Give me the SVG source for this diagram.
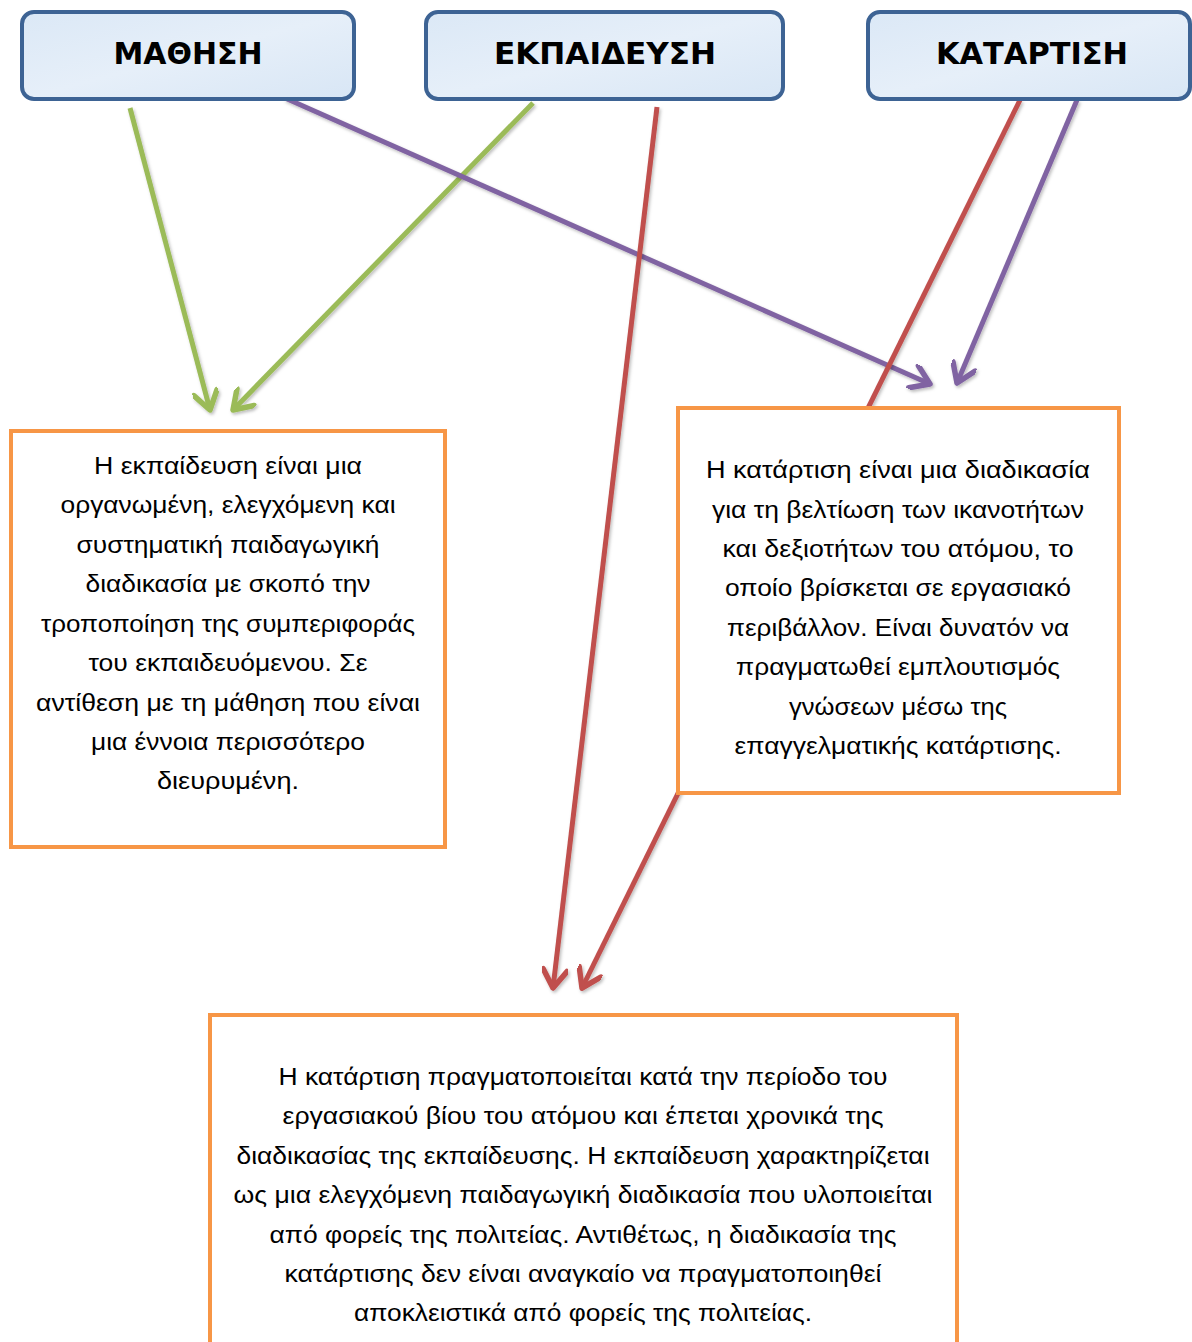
<svg xmlns="http://www.w3.org/2000/svg" width="1192" height="1342" viewBox="0 0 1192 1342">
<style>
.hdr{fill:url(#blueFill);stroke:#3d6394;stroke-width:4}
.htxt{font-family:"DejaVu Sans","Liberation Sans",sans-serif;font-weight:bold;font-size:30px;fill:#000;text-anchor:middle}
.obox{fill:#fff;stroke:#f79646;stroke-width:4}
.btxt{font-family:"Liberation Sans","Noto Sans",sans-serif;font-size:23px;fill:#000;text-anchor:middle}
.c{fill:none;stroke-width:5;filter:url(#sh)}
.g{stroke:#9bbb59}.p{stroke:#8064a2}.r{stroke:#c0504d}
</style>
<defs>
<linearGradient id="blueFill" x1="0" y1="0" x2="1" y2="1">
<stop offset="0" stop-color="#dbe8f6"/><stop offset="0.5" stop-color="#e6eff9"/><stop offset="1" stop-color="#d8e6f5"/>
</linearGradient>
<filter id="sh" x="-20%" y="-20%" width="140%" height="140%">
<feDropShadow dx="1.5" dy="2" stdDeviation="1.5" flood-color="#000" flood-opacity="0.25"/>
</filter>
<marker id="ag" viewBox="0 0 26 26" refX="22" refY="13" markerWidth="26" markerHeight="26" markerUnits="userSpaceOnUse" orient="auto"><path d="M4,1 L22,13 L4,25" fill="none" stroke="#9bbb59" stroke-width="5.5" stroke-linecap="round" stroke-linejoin="round"/></marker>
<marker id="ap" viewBox="0 0 26 26" refX="22" refY="13" markerWidth="26" markerHeight="26" markerUnits="userSpaceOnUse" orient="auto"><path d="M4,1 L22,13 L4,25" fill="none" stroke="#8064a2" stroke-width="5.5" stroke-linecap="round" stroke-linejoin="round"/></marker>
<marker id="ar" viewBox="0 0 26 26" refX="22" refY="13" markerWidth="26" markerHeight="26" markerUnits="userSpaceOnUse" orient="auto"><path d="M4,1 L22,13 L4,25" fill="none" stroke="#c0504d" stroke-width="5.5" stroke-linecap="round" stroke-linejoin="round"/></marker>
</defs>
<rect width="1192" height="1342" fill="#fff"/>

<g id="connectors">
<line class="c g" x1="130" y1="108" x2="210" y2="410" marker-end="url(#ag)"/>
<line class="c g" x1="533" y1="103" x2="233" y2="410" marker-end="url(#ag)"/>
<line class="c p" x1="285" y1="98" x2="930" y2="384" marker-end="url(#ap)"/>
<line class="c r" x1="657" y1="107" x2="553" y2="988" marker-end="url(#ar)"/>
<line class="c r" x1="1020" y1="100" x2="582" y2="988" marker-end="url(#ar)"/>
<line class="c p" x1="1077" y1="100" x2="957" y2="383" marker-end="url(#ap)"/>
</g>

<g id="node-mathisi">
<rect class="hdr" x="22" y="12" width="332" height="87" rx="12"/>
<text class="htxt" x="188" y="64" textLength="149" lengthAdjust="spacingAndGlyphs">ΜΑΘΗΣΗ</text>
</g>
<g id="node-ekpaideusi">
<rect class="hdr" x="426" y="12" width="357" height="87" rx="12"/>
<text class="htxt" x="605" y="64" textLength="222" lengthAdjust="spacingAndGlyphs">ΕΚΠΑΙΔΕΥΣΗ</text>
</g>
<g id="node-katartisi">
<rect class="hdr" x="868" y="12" width="322" height="87" rx="12"/>
<text class="htxt" x="1032" y="64" textLength="192" lengthAdjust="spacingAndGlyphs">ΚΑΤΑΡΤΙΣΗ</text>
</g>

<g id="node-ekpaideusi-def">
<rect class="obox" x="11" y="431" width="434" height="416"/>
<text class="btxt" x="228" y="474" textLength="268" lengthAdjust="spacingAndGlyphs">Η εκπαίδευση είναι μια</text>
<text class="btxt" x="228" y="513" textLength="335" lengthAdjust="spacingAndGlyphs">οργανωμένη, ελεγχόμενη και</text>
<text class="btxt" x="228" y="553" textLength="303" lengthAdjust="spacingAndGlyphs">συστηματική παιδαγωγική</text>
<text class="btxt" x="228" y="592" textLength="285" lengthAdjust="spacingAndGlyphs">διαδικασία με σκοπό την</text>
<text class="btxt" x="228" y="632" textLength="374" lengthAdjust="spacingAndGlyphs">τροποποίηση της συμπεριφοράς</text>
<text class="btxt" x="228" y="671" textLength="279" lengthAdjust="spacingAndGlyphs">του εκπαιδευόμενου. Σε</text>
<text class="btxt" x="228" y="711" textLength="384" lengthAdjust="spacingAndGlyphs">αντίθεση με τη μάθηση που είναι</text>
<text class="btxt" x="228" y="750" textLength="274" lengthAdjust="spacingAndGlyphs">μια έννοια περισσότερο</text>
<text class="btxt" x="228" y="789" textLength="142" lengthAdjust="spacingAndGlyphs">διευρυμένη.</text>
</g>

<g id="node-katartisi-def">
<rect class="obox" x="678" y="408" width="441" height="385"/>
<text class="btxt" x="898" y="478" textLength="384" lengthAdjust="spacingAndGlyphs">Η κατάρτιση είναι μια διαδικασία</text>
<text class="btxt" x="898" y="518" textLength="372" lengthAdjust="spacingAndGlyphs">για τη βελτίωση των ικανοτήτων</text>
<text class="btxt" x="898" y="557" textLength="351" lengthAdjust="spacingAndGlyphs">και δεξιοτήτων του ατόμου, το</text>
<text class="btxt" x="898" y="596" textLength="346" lengthAdjust="spacingAndGlyphs">οποίο βρίσκεται σε εργασιακό</text>
<text class="btxt" x="898" y="636" textLength="342" lengthAdjust="spacingAndGlyphs">περιβάλλον. Είναι δυνατόν να</text>
<text class="btxt" x="898" y="675" textLength="324" lengthAdjust="spacingAndGlyphs">πραγματωθεί εμπλουτισμός</text>
<text class="btxt" x="898" y="715" textLength="218" lengthAdjust="spacingAndGlyphs">γνώσεων μέσω της</text>
<text class="btxt" x="898" y="754" textLength="327" lengthAdjust="spacingAndGlyphs">επαγγελματικής κατάρτισης.</text>
</g>

<g id="node-comparison">
<rect class="obox" x="210" y="1015" width="747" height="345"/>
<text class="btxt" x="583" y="1085" textLength="609" lengthAdjust="spacingAndGlyphs">Η κατάρτιση πραγματοποιείται κατά την περίοδο του</text>
<text class="btxt" x="583" y="1124" textLength="601" lengthAdjust="spacingAndGlyphs">εργασιακού βίου του ατόμου και έπεται χρονικά της</text>
<text class="btxt" x="583" y="1164" textLength="693" lengthAdjust="spacingAndGlyphs">διαδικασίας της εκπαίδευσης. Η εκπαίδευση χαρακτηρίζεται</text>
<text class="btxt" x="583" y="1203" textLength="699" lengthAdjust="spacingAndGlyphs">ως μια ελεγχόμενη παιδαγωγική διαδικασία που υλοποιείται</text>
<text class="btxt" x="583" y="1243" textLength="627" lengthAdjust="spacingAndGlyphs">από φορείς της πολιτείας. Αντιθέτως, η διαδικασία της</text>
<text class="btxt" x="583" y="1282" textLength="597" lengthAdjust="spacingAndGlyphs">κατάρτισης δεν είναι αναγκαίο να πραγματοποιηθεί</text>
<text class="btxt" x="583" y="1321" textLength="458" lengthAdjust="spacingAndGlyphs">αποκλειστικά από φορείς της πολιτείας.</text>
</g>
</svg>
